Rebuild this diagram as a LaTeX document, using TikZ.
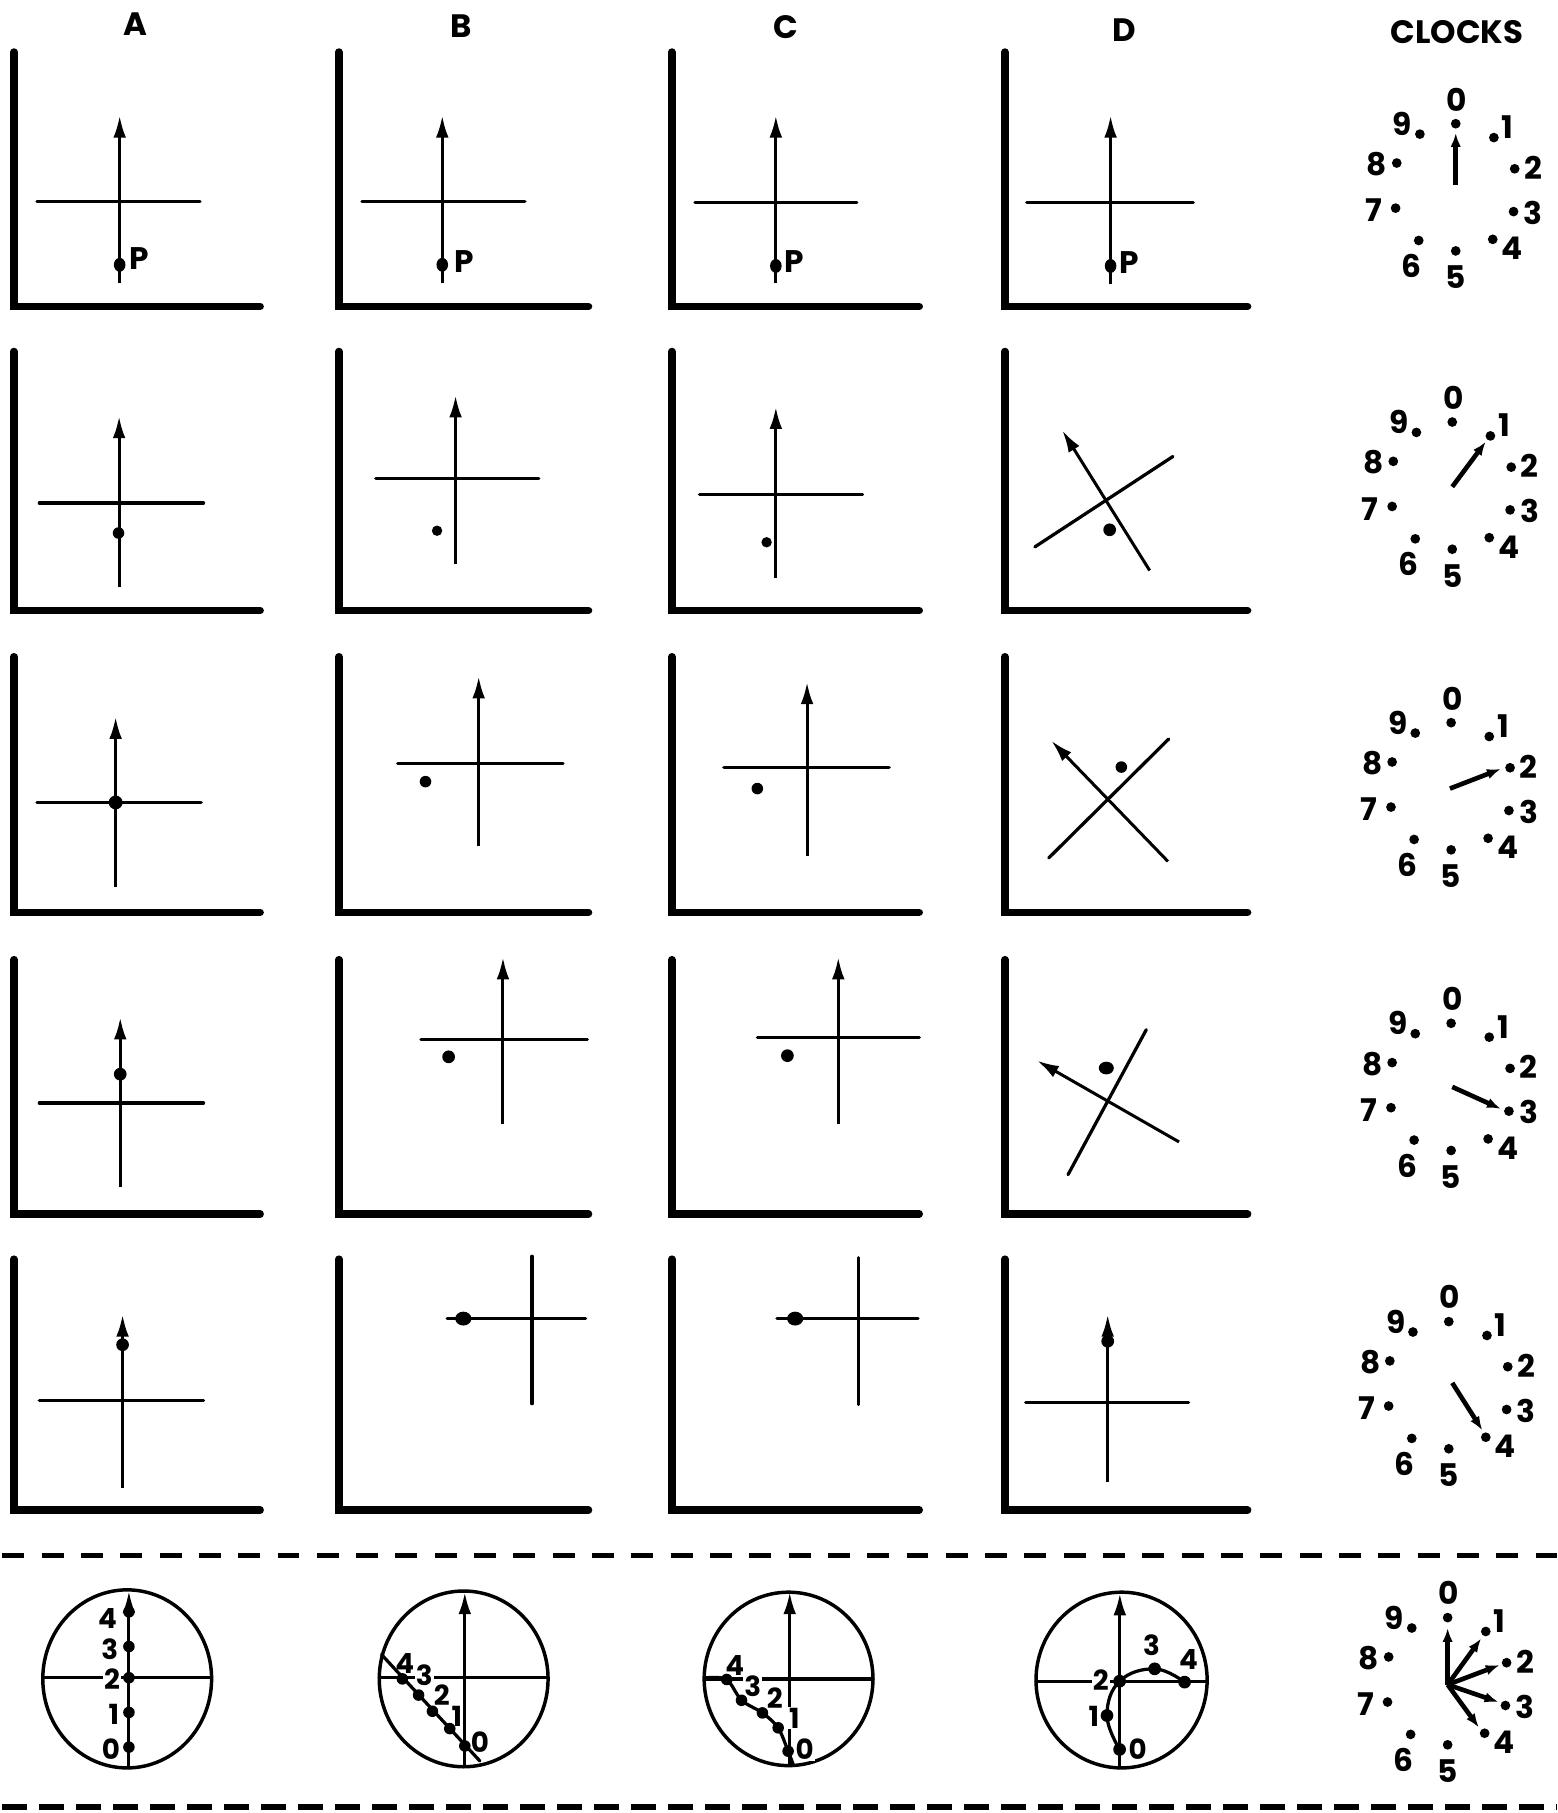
\documentclass[tikz,border=0pt]{standalone}
\usepackage{fontspec}
\setmainfont{Poppins}
\usetikzlibrary{arrows.meta}
\tikzset{
 frameline/.style={line width=6.5pt, line cap=round},
 crossline/.style={line width=2.8pt, line cap=round},
 arrline/.style={line width=2.6pt, -{Latex[length=19pt,width=11pt]}},
 plainline/.style={line width=2.8pt, line cap=round},
 ring/.style={line width=3pt},
 hand/.style={line width=4pt, -{Latex[length=12pt,width=9pt]}},
 clab/.style={font=\bfseries\fontsize{27}{27}\selectfont, inner sep=0pt},
 hdr/.style={font=\bfseries\fontsize{28}{28}\selectfont, inner sep=0pt},
 plab/.style={font=\bfseries\fontsize{27}{27}\selectfont, inner sep=0pt},
 blab/.style={font=\bfseries\fontsize{24}{24}\selectfont, inner sep=0.8pt, fill=white},
 dashline/.style={line width=4.5pt, dash pattern=on 19pt off 15pt},
 dashlineb/.style={line width=5pt, dash pattern=on 21pt off 11pt},
}
\newcommand\clockface[3]{%
  \foreach \k/\dx/\dy/\lx/\ly in {0/0/-55/1/-76, 1/33/-43/45/-52, 2/51/-16/67/-17, 3/50/21/67/22, 4/32/45/49/53, 5/0/55/0/78, 6/-32/46/-38/68, 7/-52/18/-71/20, 8/-51/-21/-68/-20, 9/-31/-46/-46/-55}{%
    \fill ({#2+\dx},{#3+\dy}) circle (4.2);
    \node[clab] (#1-\k) at ({#2+\lx},{#3+\ly}) {\k};
  }%
}
\begin{document}
\begin{tikzpicture}[x=1pt,y=-1pt]
\useasboundingbox (0,0) rectangle (1347,1568);

% headers
\node[hdr] (hA) at (117,21) {A};
\node[hdr] (hB) at (399,23) {B};
\node[hdr] (hC) at (680,23) {C};
\node[hdr] (hD) at (972,26) {D};
\node[hdr] (hK) at (1260,28) {CLOCKS};

% frames
\foreach \t/\b in {45/265, 304/528, 568/789, 830/1050, 1089/1306}
 \foreach \x/\r in {12/225, 293/509, 581/795, 869/1079}
  \draw[frameline] (\x,\t) -- (\x,\b) -- (\r,\b);

% row 1
\draw[crossline] (32,174) -- (173,174);
\draw[arrline] (103.5,245) -- (103.5,100);
\fill (103.5,229) ellipse [x radius=5, y radius=6];
\node[plab, anchor=west] (pA) at (112,224) {P};
\draw[crossline] (313,174) -- (454,174);
\draw[arrline] (382.5,245) -- (382.5,100);
\fill (382.5,229) ellipse [x radius=5, y radius=6];
\node[plab, anchor=west] (pB) at (393,226) {P};
\draw[crossline] (601,175) -- (741,175);
\draw[arrline] (671,245) -- (671,100);
\fill (671,230) ellipse [x radius=5, y radius=6];
\node[plab, anchor=west] (pC) at (678,226) {P};
\draw[crossline] (888,175) -- (1032,175);
\draw[arrline] (960.5,246) -- (960.5,100);
\fill (960.5,230) ellipse [x radius=5, y radius=6];
\node[plab, anchor=west] (pD) at (968,227) {P};

% row 2
\draw[crossline] (34,435) -- (176,435);
\draw[arrline] (103,508) -- (103,360);
\fill (102.5,461) circle (5);
\draw[crossline] (325,414) -- (466,414);
\draw[arrline] (394,488) -- (394,342);
\fill (378,459) circle (4.5);
\draw[crossline] (605,428) -- (746,428);
\draw[arrline] (671,500) -- (671,352);
\fill (663,469) circle (4.5);
\draw[crossline] (895,473) -- (1014.4,394.8);
\draw[arrline] (994.3,493.4) -- (918.8,372.4);
\fill (959.7,458.2) circle (5.5);

% row 3
\draw[crossline] (32,694) -- (174,694);
\draw[arrline] (100,767) -- (100,620);
\fill (100,694) circle (6);
\draw[crossline] (344,660) -- (487,660);
\draw[arrline] (414,732) -- (414,585);
\fill (368,676) circle (5);
\draw[crossline] (626,664) -- (769,664);
\draw[arrline] (698,740) -- (698,590);
\fill (655,682) circle (5);
\draw[crossline] (907,742) -- (1010.7,639.2);
\draw[arrline] (1010.1,745) -- (909.3,640.7);
\fill (969.8,663.4) circle (5);

% row 4
\draw[crossline] (34,954) -- (176,954);
\draw[arrline] (104,1027) -- (104,880);
\fill (104,929) circle (5.5);
\draw[crossline] (364,899) -- (508,899);
\draw[arrline] (435,972) -- (435,828);
\fill (388,914) circle (5.5);
\draw[crossline] (655,897) -- (795,897);
\draw[arrline] (725,972) -- (725,828);
\fill (681,913) circle (5.5);
\draw[crossline] (923.7,1015.9) -- (991.4,890.5);
\draw[arrline] (1019.7,987.6) -- (896.9,917.3);
\fill (956.8,923.7) ellipse [x radius=6.5, y radius=5.5];

% row 5
\draw[crossline] (34,1211) -- (176,1211);
\draw[arrline] (106,1287) -- (106,1137);
\fill (106,1163) circle (5.5);
\draw[crossline] (386.7,1140.4) -- (506.5,1140.4);
\draw[plainline] (460,1214) -- (460,1086.5);
\fill (400.7,1140.4) ellipse [x radius=7, y radius=6];
\draw[crossline] (672,1140.4) -- (794,1140.4);
\draw[plainline] (742.5,1214.7) -- (742.5,1087.7);
\fill (687.7,1140.4) ellipse [x radius=7, y radius=6];
\draw[crossline] (887,1213) -- (1028,1213);
\draw[arrline] (958,1282) -- (958,1137);
\fill (958,1160) circle (5.5);

% clocks
\clockface{ka}{1259}{162}
\draw[hand] (1259,160) -- (1259,115);
\clockface{kb}{1256}{420}
\draw[hand] (1256,421) -- (1285,382);
\clockface{kc}{1255}{680}
\draw[hand] (1254,682) -- (1298,665);
\clockface{kd}{1255}{940}
\draw[hand] (1256,940) -- (1298,959);
\clockface{ke}{1253}{1198}
\draw[hand] (1256,1196) -- (1282,1237);
\clockface{kf}{1252}{1454}
\draw[hand] (1252,1457) -- (1252,1408);
\draw[hand] (1252,1457) -- (1281,1417);
\draw[hand] (1252,1457) -- (1297,1440);
\draw[hand] (1252,1457) -- (1296,1472);
\draw[hand] (1252,1457) -- (1279,1494);

% dashed separators
\draw[dashline] (2,1345) -- (1347,1345);
\draw[dashlineb] (2,1563) -- (1347,1563);

% bottom circle A
\draw[ring] (110,1452) ellipse [x radius=73, y radius=77];
\draw[crossline] (37,1451) -- (183,1451);
\draw[arrline] (111.5,1529) -- (111.5,1376);
\node[blab] (a4) at (93,1400) {4};
\node[blab] (a3) at (95,1426) {3};
\node[blab] (a2) at (97,1452) {2};
\node[blab] (a1) at (98.5,1483) {1};
\node[blab] (a0) at (96,1513) {0};
\foreach \yy in {1394,1424,1451,1481,1511} \fill (111.5,\yy) circle (5);

% bottom circle B
\draw[ring] (401,1452) ellipse [x radius=73, y radius=76];
\draw[crossline] (328,1451) -- (474,1451);
\draw[arrline] (402,1528) -- (402,1377);
\node[blab] (b4) at (350,1439) {4};
\node[blab] (b3) at (367,1449) {3};
\node[blab] (b2) at (382,1466) {2};
\node[blab] (b1) at (395,1484) {1};
\node[blab] (b0) at (415,1507) {0};
\draw[crossline] (330,1431) -- (415,1523);
\foreach \px/\py in {348/1452, 362/1466, 374/1480, 389/1495, 402/1510} \fill (\px,\py) circle (5);

% bottom circle C
\draw[ring] (682,1452) ellipse [x radius=73, y radius=75];
\draw[crossline] (611,1452) -- (755,1452);
\draw[arrline] (683,1527) -- (683,1377);
\node[blab] (c4) at (635.5,1440) {4};
\node[blab] (c3) at (651,1458) {3};
\node[blab] (c2) at (670,1469) {2};
\node[blab] (c1) at (687,1486) {1};
\node[blab] (c0) at (696,1513) {0};
\draw[crossline] plot[smooth, tension=0.5] coordinates {(611,1451) (628.5,1452.5) (641.3,1470.5) (659.4,1481.4) (673,1494.3) (681.6,1514.5) (686,1526)};
\foreach \px/\py in {628.5/1452.5, 641.3/1470.5, 659.4/1481.4, 673/1494.3, 681.6/1514.5} \fill (\px,\py) circle (5);

% bottom circle D
\draw[ring] (970,1453) ellipse [x radius=74, y radius=76];
\draw[crossline] (896,1454) -- (1044,1454);
\draw[arrline] (968.5,1529) -- (968.5,1378);
\node[blab] (d0) at (984,1513) {0};
\node[blab] (d1) at (946,1484) {1};
\node[blab] (d2) at (952,1453) {2};
\node[blab] (d3) at (996,1423) {3};
\node[blab] (d4) at (1028,1435) {4};
\draw[crossline] plot[smooth, tension=0.7] coordinates {(968.3,1513) (957.4,1483.7) (968.3,1454) (998.6,1443.3) (1024.5,1454.8)};
\foreach \px/\py in {968.3/1513, 957.4/1483.7, 968.3/1454, 998.6/1443.3, 1024.5/1454.8} \fill (\px,\py) circle (5.5);
\end{tikzpicture}
\end{document}
